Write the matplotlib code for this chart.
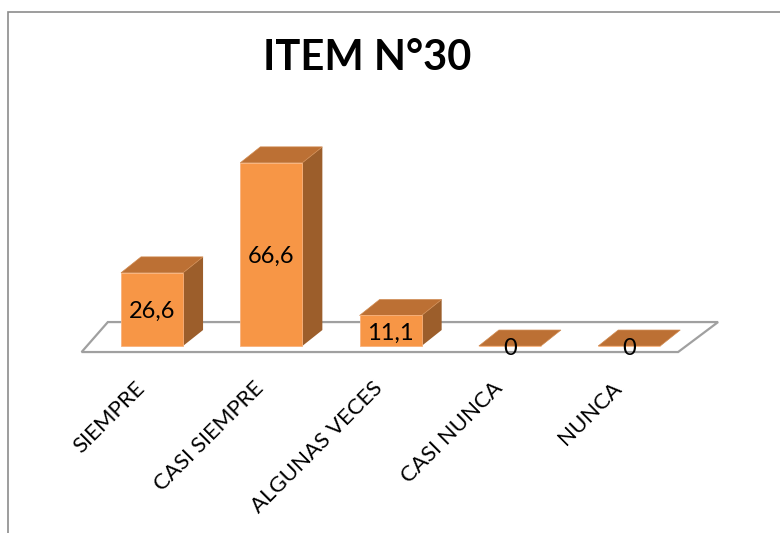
import numpy as np
import matplotlib.pyplot as plt
from matplotlib.patches import Polygon, Rectangle

# Data
categories = ['SIEMPRE', 'CASI SIEMPRE', 'ALGUNAS VECES', 'CASI NUNCA', 'NUNCA']
values = [26.6, 66.6, 11.1, 0, 0]
value_labels = ['26,6', '66,6', '11,1', '0', '0']

front_color = '#F79646'
top_color = '#BC7034'
side_color = '#9C5E2B'

plt.rcParams['font.family'] = ['Lato', 'DejaVu Sans']

fig = plt.figure(figsize=(7.8, 5.33), dpi=100)
ax = fig.add_axes([0, 0, 1, 1])
ax.set_xlim(-1.274, 5.264)
ax.set_ylim(-68.0, 125.8)
ax.axis('off')

# chart frame (cut at right/bottom like the reference)
fig.patches.append(Rectangle((8 / 780, -0.1), 1.1, 1 - 12 / 533 + 0.1,
                             transform=fig.transFigure, fill=False,
                             edgecolor='#8c8c8c', linewidth=1.2))

x = np.arange(len(categories))
width = 0.52
ddx, ddy = 0.168, 5.8  # depth of the 3D boxes

# floor (slight perspective)
floor = Polygon([(-0.59, -2.2), (4.41, -2.2), (4.745, 8.7), (-0.37, 8.7)],
                closed=True, facecolor='white', edgecolor='#a0a0a0',
                linewidth=1.6, zorder=1)
ax.add_patch(floor)

for xi, v in zip(x, values):
    left, right = xi - width / 2, xi + width / 2
    side = Polygon([(right, 0), (right + ddx, ddy), (right + ddx, v + ddy), (right, v)],
                   closed=True, facecolor=side_color, edgecolor='none', zorder=2)
    top = Polygon([(left, v), (right, v), (right + ddx, v + ddy), (left + ddx, v + ddy)],
                  closed=True, facecolor=top_color, edgecolor='#d08a50',
                  linewidth=0.5, zorder=3)
    ax.add_patch(side)
    ax.add_patch(top)

ax.bar(x, values, width=width, color=front_color, edgecolor='#f9b27c',
       linewidth=0.6, zorder=3)

for xi, v, lab in zip(x, values, value_labels):
    ax.text(xi, v / 2 - 0.8, lab, ha='center', va='center', fontsize=17,
            color='black', zorder=5)

# category labels, rotated like the reference
for xi, cat in zip(x, categories):
    ax.text(xi - 0.09, -14.2, cat, rotation=45, rotation_mode='anchor',
            ha='right', va='center', fontsize=16, color='black')

fig.text(367 / 780, 1 - 58 / 533, 'ITEM N°30', ha='center', va='center',
         fontsize=30, fontweight='bold', color='black')

fig.savefig('out.png', dpi=100)
